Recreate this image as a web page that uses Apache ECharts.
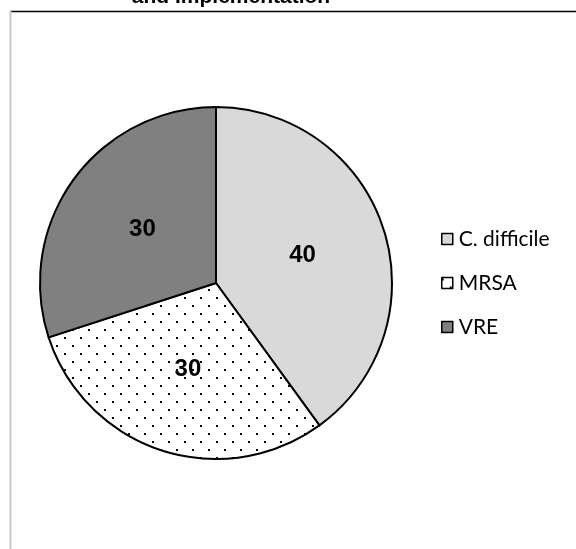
<!DOCTYPE html>
<html>
<head>
<meta charset="utf-8">
<script src="https://cdn.jsdelivr.net/npm/echarts@6/dist/echarts.min.js"></script>
<style>
  html, body { margin: 0; padding: 0; background: #fff; }
  #chart { width: 576px; height: 549px; }
</style>
</head>
<body>
<div id="chart"></div>
<script>
// data
const titleText = 'and Implementation'
const categories = ['C. difficile', 'MRSA', 'VRE']
const values = [40, 30, 30]

// dotted fill for MRSA, 16px tile with two offset dots
function dotPattern() {
    const c = document.createElement('canvas')
    c.width = 16
    c.height = 16
    const ctx = c.getContext('2d')
    ctx.fillStyle = '#fff'
    ctx.fillRect(0, 0, 16, 16)
    ctx.fillStyle = '#000'
    ctx.fillRect(0, 1, 2, 2)
    ctx.fillRect(8, 9, 2, 2)
    return c
}

const fills = ['#d9d9d9', { image: dotPattern(), repeat: 'repeat' }, '#808080']

const chart = echarts.init(document.getElementById('chart'), null, { renderer: 'canvas' })

const option = {
    animation: false,
    backgroundColor: '#fff',
    graphic: [
        {
            type: 'text',
            x: 231,
            y: 8,
            style: {
                text: titleText,
                font: 'bold 21px "Liberation Sans", Arial, sans-serif',
                fill: '#000',
                align: 'center',
                verticalAlign: 'bottom'
            }
        },
        {
            type: 'line',
            shape: { x1: 10, y1: 11.5, x2: 576, y2: 11.5 },
            style: { stroke: '#000', lineWidth: 1.5 }
        },
        {
            type: 'line',
            shape: { x1: 10.5, y1: 11, x2: 10.5, y2: 549 },
            style: { stroke: '#c8c8c8', lineWidth: 2 }
        }
    ],
    legend: {
        orient: 'vertical',
        left: 436,
        top: 223,
        itemWidth: 11,
        itemHeight: 11,
        itemGap: 22,
        icon: 'rect',
        data: categories,
        itemStyle: { borderColor: '#000', borderWidth: 1.5 },
        textStyle: {
            fontFamily: 'Lato, "Open Sans", sans-serif',
            fontSize: 21,
            lineHeight: 22,
            color: '#000',
            padding: [0, 0, 0, 1]
        }
    },
    series: [{
        type: 'pie',
        center: [216, 283],
        radius: 176,
        startAngle: 90,
        clockwise: true,
        itemStyle: { borderColor: '#000', borderWidth: 2 },
        label: {
            show: true,
            position: 'inside',
            formatter: '{c}',
            color: '#000',
            fontFamily: '"Liberation Sans", Arial, sans-serif',
            fontWeight: 'bold',
            fontSize: 24
        },
        labelLine: { show: false },
        emphasis: { disabled: true },
        data: categories.map((name, i) => ({
            name: name,
            value: values[i],
            itemStyle: { color: fills[i] }
        }))
    }]
}

chart.setOption(option)
</script>
</body>
</html>
